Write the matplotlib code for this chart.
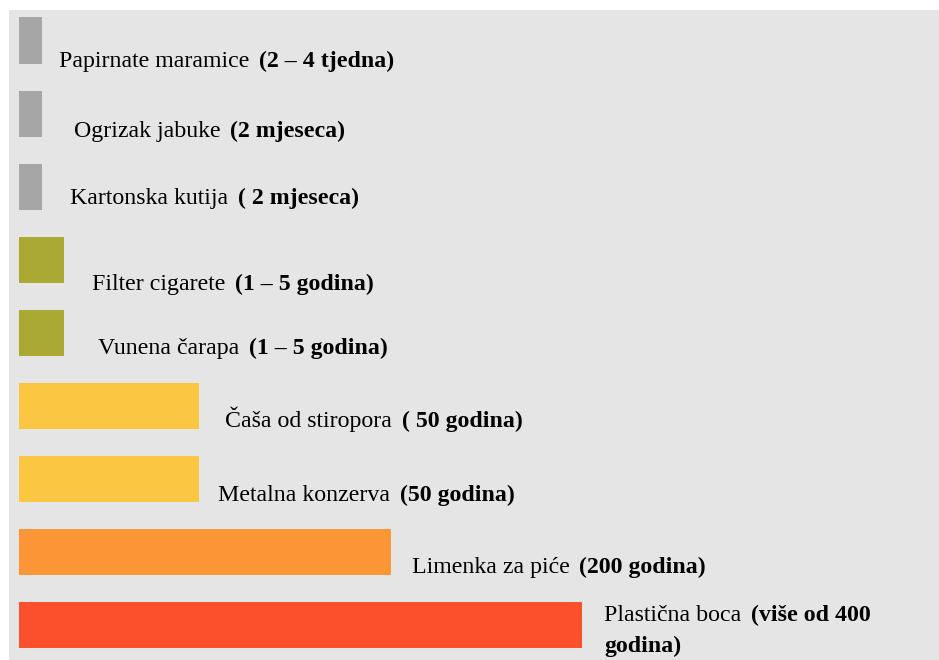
import matplotlib
matplotlib.use("Agg")
import matplotlib.pyplot as plt

# ---- data ----
items = ["Papirnate maramice", "Ogrizak jabuke", "Kartonska kutija",
         "Filter cigarete", "Vunena čarapa", "Čaša od stiropora",
         "Metalna konzerva", "Limenka za piće", "Plastična boca"]
durations = ["(2 – 4 tjedna)", "(2 mjeseca)", "( 2 mjeseca)",
             "(1 – 5 godina)", "(1 – 5 godina)", "( 50 godina)",
             "(50 godina)", "(200 godina)", "(više od 400\ngodina)"]
relative_length = [1, 1, 1, 2, 2, 8, 8, 16.5, 25]

# ---- style ----
colors = ["#a6a6a6", "#a6a6a6", "#a6a6a6", "#a9a933", "#a9a933",
          "#fbc642", "#fbc642", "#fb9535", "#fc502d"]
label_dx = [17, 32, 28, 28, 34, 26, 19, 21, 22]       # px right of bar end
label_dy = [27, 23, 17, 30, 21, 21, 22, 21, -4]       # px below bar centre (baseline)
FONT = "Liberation Serif"
FS = 17.2

W, H, DPI = 939, 660, 100
fig = plt.figure(figsize=(W / DPI, H / DPI), dpi=DPI, facecolor="white")
ax = fig.add_axes([9 / W, 0, (W - 9) / W, (H - 10) / H])
ax.set_facecolor("#e5e5e5")
for s in ax.spines.values():
    s.set_visible(False)
ax.set_xticks([])
ax.set_yticks([])

ypos = list(range(len(items)))
ax.barh(ypos, relative_length, height=0.63, color=colors, left=0)

px_per_unit = 563 / 25.0
ax.set_xlim(-10 / px_per_unit, -10 / px_per_unit + (W - 9) / px_per_unit)
ax.set_ylim(8 + 35 / 73.1, -30.5 / 73.1)

for i, (name, dur, val) in enumerate(zip(items, durations, relative_length)):
    lines = dur.split("\n")
    t1 = ax.annotate(name, xy=(val, i), xycoords="data",
                     xytext=(label_dx[i], -label_dy[i]), textcoords="offset pixels",
                     ha="left", va="baseline", fontsize=FS, family=FONT, color="black")
    t2 = ax.annotate(lines[0], xy=(1, 0), xycoords=t1,
                     xytext=(10, 0), textcoords="offset pixels",
                     ha="left", va="bottom", fontsize=FS, family=FONT,
                     fontweight="bold", color="black")
    if len(lines) > 1:
        ax.annotate(lines[1], xy=(val, i), xycoords="data",
                    xytext=(label_dx[i], -label_dy[i] - 31), textcoords="offset pixels",
                    ha="left", va="baseline", fontsize=FS, family=FONT,
                    fontweight="bold", color="black")

fig.savefig("out.png", dpi=DPI, facecolor="white")
